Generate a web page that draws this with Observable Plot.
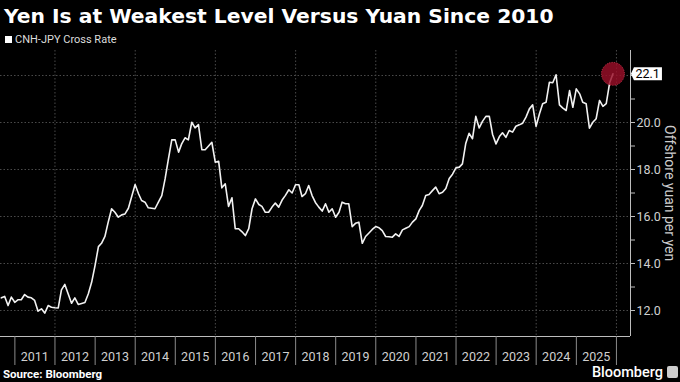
<!DOCTYPE html>
<html>
<head>
<meta charset="utf-8">
<script src="https://cdn.jsdelivr.net/npm/d3@7"></script>
<script src="https://cdn.jsdelivr.net/npm/@observablehq/plot@0.6"></script>
<style>
  html, body { margin: 0; padding: 0; background: #000; }
  #wrap { position: relative; width: 680px; height: 382px; overflow: hidden; background: #000; font-family: Roboto, "Noto Sans", sans-serif; }
  #title { position: absolute; left: 4px; top: 2px; color: #fff; font-family: "DejaVu Sans", sans-serif; font-weight: 700; font-size: 20.3px; line-height: 28px; white-space: nowrap; }
  #legend { position: absolute; left: 5px; top: 32px; color: #ddd; font-size: 11px; line-height: 16px; white-space: nowrap; }
  #legend .sw { display: inline-block; width: 7px; height: 7px; background: #fff; margin-right: 3px; vertical-align: 0px; }
  #chart { position: absolute; left: 0; top: 44px; }
  #ylabel { position: absolute; left: 662px; top: 116px; height: 155px; writing-mode: vertical-rl; text-align: center; color: #ccc; font-size: 14px; line-height: 16px; white-space: nowrap; }
  #source { position: absolute; left: 3px; top: 367px; color: #fff; font-weight: 700; font-size: 11.5px; line-height: 15px; }
  #logo { position: absolute; right: 2px; top: 364px; color: #fff; font-weight: 500; font-size: 14.5px; line-height: 18px; white-space: nowrap; }
  #logo .ic { display: inline-block; width: 11px; height: 12px; background: #ccc; border-radius: 2px; margin-left: 4px; vertical-align: -1px; }
</style>
</head>
<body>
<div id="wrap">
  <div id="title">Yen Is at Weakest Level Versus Yuan Since 2010</div>
  <div id="legend"><span class="sw"></span>CNH-JPY Cross Rate</div>
  <div id="chart"></div>
  <div id="ylabel">Offshore yuan per yen</div>
  <div id="source">Source: Bloomberg</div>
  <div id="logo">Bloomberg<span class="ic"></span></div>
</div>
<script>
// Monthly CNH-JPY cross rate (yen per offshore yuan), month-end, starting Aug 2010
const firstMonth = "2010-08";
const values = [
  12.54, 12.60, 12.21, 12.57, 12.35,                                   // 2010 Aug-Dec
  12.46, 12.46, 12.68, 12.57, 12.54, 12.43, 11.97, 12.07, 11.89, 12.21, 12.14, 12.12, // 2011
  12.11, 12.88, 13.11, 12.71, 12.31, 12.54, 12.26, 12.30, 12.34, 12.71, 13.20, 13.91, // 2012
  14.72, 14.86, 15.15, 15.76, 16.33, 16.18, 15.97, 16.07, 16.11, 16.35, 16.85, 17.36, // 2013
  16.97, 16.68, 16.61, 16.37, 16.35, 16.33, 16.61, 16.89, 17.60, 18.46, 19.26, 19.26, // 2014
  18.74, 19.09, 19.35, 19.26, 20.01, 19.77, 19.91, 18.84, 18.84, 19.00, 19.16, 18.31, // 2015
  18.35, 17.22, 17.39, 16.43, 16.80, 15.48, 15.48, 15.35, 15.19, 15.48, 16.33, 16.75, // 2016
  16.51, 16.43, 16.18, 16.18, 16.40, 16.57, 16.40, 16.70, 16.90, 17.14, 17.00, 17.35, // 2017
  17.35, 16.85, 16.97, 17.32, 16.89, 16.60, 16.40, 16.23, 16.54, 16.18, 16.33, 15.97, // 2018
  16.18, 16.61, 16.54, 16.54, 15.57, 15.71, 15.76, 14.86, 15.15, 15.30, 15.45, 15.57, // 2019
  15.52, 15.40, 15.15, 15.14, 15.12, 15.26, 15.15, 15.43, 15.50, 15.57, 15.76, 15.90, // 2020
  16.26, 16.47, 16.89, 16.94, 17.10, 17.25, 16.97, 17.03, 17.19, 17.62, 17.80, 18.07, // 2021
  18.10, 18.24, 19.12, 19.54, 19.31, 20.26, 19.77, 20.06, 20.26, 20.26, 19.49, 19.09, // 2022
  19.40, 19.56, 19.37, 19.66, 19.59, 19.84, 19.90, 19.97, 20.23, 20.58, 20.75, 19.84, // 2023
  20.37, 20.80, 20.86, 21.71, 21.69, 22.03, 20.75, 20.61, 20.51, 21.36, 20.65, 21.43, // 2024
  21.22, 20.86, 20.80, 19.76, 20.01, 20.16, 20.94, 20.69, 20.80, 21.69, 22.07         // 2025 Jan-Nov
];
const yearLabels = [2011, 2012, 2013, 2014, 2015, 2016, 2017, 2018, 2019, 2020, 2021, 2022, 2023, 2024, 2025];
const yearTickYears = [2011, 2012, 2013, 2014, 2015, 2016, 2017, 2018, 2019, 2020, 2021, 2022, 2023, 2024, 2025, 2026];
const gridYears = [2012, 2014, 2016, 2018, 2020, 2022, 2024, 2026];
const yTicks = [12, 14, 16, 18, 20, 22];
const yTickLabels = [12, 14, 16, 18, 20];   // 22.0 is hidden under the last-value tag
const yMinorTicks = [13, 15, 17, 19, 21];
const xDomainDates = ["2010-08-23", "2026-05-09"];
const yDomain = [10.894, 23.064];

const start = d3.utcParse("%Y-%m")(firstMonth);
const data = values.map((v, i) => ({
  date: d3.utcDay.offset(d3.utcMonth.offset(start, i + 1), -1),
  value: v
}));
const last = data[data.length - 1];
const jan = y => new Date(Date.UTC(y, 0, 1));
const jul = y => new Date(Date.UTC(y, 6, 1));
const xDomain = xDomainDates.map(d => new Date(d + "T00:00:00Z"));

const tagSymbol = {
  draw(ctx) {
    ctx.moveTo(18, 0);
    ctx.lineTo(21, -6.5);
    ctx.lineTo(49, -6.5);
    ctx.lineTo(49, 6.5);
    ctx.lineTo(21, 6.5);
    ctx.closePath();
  }
};

const gridColor = "#4a4a4a";
const axisColor = "#bdbdbd";

const chart = Plot.plot({
  width: 680,
  height: 328,
  marginTop: 6,
  marginBottom: 36,
  marginLeft: 0,
  marginRight: 50,
  style: { background: "black", color: "#cfcfcf", fontFamily: "Roboto, 'Noto Sans', sans-serif", fontSize: "12.5px", overflow: "visible" },
  x: { type: "utc", domain: xDomain },
  y: { domain: yDomain },
  marks: [
    Plot.gridY(yTicks, { stroke: gridColor, strokeOpacity: 1, strokeDasharray: "1.5,2" }),
    Plot.gridX(gridYears.map(jan), { stroke: gridColor, strokeOpacity: 1, strokeDasharray: "1.5,2" }),
    Plot.ruleY([yDomain[0]], { stroke: axisColor, strokeWidth: 1 }),
    Plot.ruleX([xDomain[1]], { stroke: axisColor, strokeWidth: 1 }),
    Plot.axisX(yearTickYears.map(jan), { anchor: "bottom", tickSize: 29, tickFormat: () => "", stroke: "#8a8a8a", label: null }),
    Plot.axisX(yearLabels.map(jul), { anchor: "bottom", tickSize: 0, tickPadding: 16, tickFormat: d => String(d.getUTCFullYear()), fill: "#d0d0d0", fontSize: 12.5, label: null }),
    Plot.axisY(yTicks, { anchor: "right", tickSize: 4, tickFormat: () => "", stroke: axisColor, label: null }),
    Plot.axisY(yTickLabels, { anchor: "right", tickSize: 4, tickPadding: 2, tickFormat: d3.format(".1f"), stroke: axisColor, fill: "#d0d0d0", fontSize: 12.5, label: null }),
    Plot.axisY(yMinorTicks, { anchor: "right", tickSize: 4, tickFormat: () => "", stroke: axisColor, label: null }),
    Plot.lineY(data, { x: "date", y: "value", stroke: "#f2f2f2", strokeWidth: 1.6 }),
    Plot.dot([last], { x: "date", y: "value", r: 11.5, fill: "#9a0f28", fillOpacity: 0.82, stroke: "#c8384f", strokeWidth: 1, strokeDasharray: "1,1.5" }),
    Plot.dot([last], { x: "date", y: "value", symbol: tagSymbol, fill: "white", stroke: "none" }),
    Plot.text([last], { x: "date", y: "value", text: d => d3.format(".1f")(d.value), dx: 22.5, textAnchor: "start", fill: "black", fontSize: 12.5 })
  ]
});
document.getElementById("chart").appendChild(chart);
</script>
</body>
</html>
